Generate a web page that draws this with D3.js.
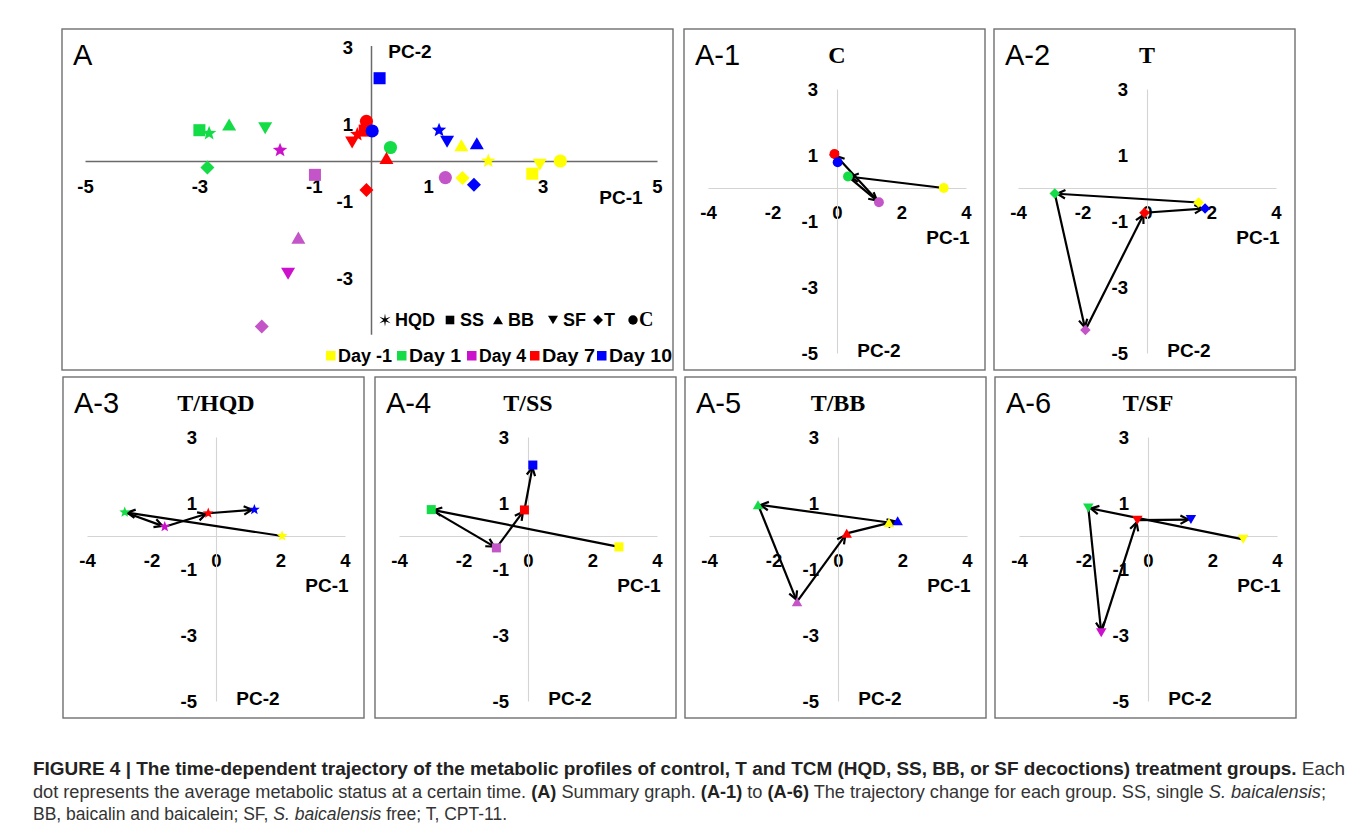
<!DOCTYPE html>
<html><head><meta charset="utf-8">
<script src="https://cdn.jsdelivr.net/npm/d3@7"></script>
<style>body{margin:0;background:#fff}</style>
</head><body><svg id="c" width="1358" height="835"></svg>
<script>
// ---------------- DATA ----------------
const days = ["Day -1","Day 1","Day 4","Day 7","Day 10"];
const groups = ["HQD","SS","BB","SF","T","C"];
const pc1_HQD=[2.05,-2.83,-1.59,-0.24,1.19], pc2_HQD=[0.00,0.72,0.28,0.69,0.80];
const pc1_SS =[2.82,-3.00,-0.98,-0.11,0.15], pc2_SS =[-0.33,0.80,-0.36,0.79,2.15];
const pc1_BB =[1.58,-2.48,-1.27,0.27,1.85],  pc2_BB =[0.41,0.95,-1.99,0.08,0.46];
const pc1_SF =[2.95,-1.85,-1.45,-0.33,1.33], pc2_SF =[-0.10,0.85,-2.93,0.48,0.50];
const pc1_T  =[1.60,-2.86,-1.91,-0.08,1.80], pc2_T  =[-0.44,-0.17,-4.30,-0.75,-0.62];
const pc1_C  =[3.31,0.34,1.30,-0.08,0.02],   pc2_C  =[0.00,0.35,-0.43,1.03,0.78];
const xTicksA=[-5,-3,-1,1,3,5], yTicksA=[3,1,-1,-3];
const xTicksSub=[-4,-2,0,2,4], yTicksSub=[3,1,-1,-3,-5];
const subLabels=["A-1","A-2","A-3","A-4","A-5","A-6"];
const subTitles=["C","T","T/HQD","T/SS","T/BB","T/SF"];
const subGroups=["C","T","HQD","SS","BB","SF"];

// ---------------- STYLE ----------------
const PC1={HQD:pc1_HQD,SS:pc1_SS,BB:pc1_BB,SF:pc1_SF,T:pc1_T,C:pc1_C};
const PC2={HQD:pc2_HQD,SS:pc2_SS,BB:pc2_BB,SF:pc2_SF,T:pc2_T,C:pc2_C};
const shapeOf={HQD:"star",SS:"square",BB:"triUp",SF:"triDown",T:"diamond",C:"circle"};
const dayColor=["#FFFF00","#14DC46","#C455C8","#FF0000","#0000FF"];
const day4Strong={HQD:true,SF:true};
function colorFor(g,i){ if(i===2 && day4Strong[g]) return "#CC11CC"; return dayColor[i]; }
const SANS="Liberation Sans, Arial, sans-serif", SERIF="Liberation Serif, Times New Roman, serif";

function shapePath(shape,s){
  const h=s/2;
  if(shape==="square"){const a=s*0.43;return `M${-a},${-a}H${a}V${a}H${-a}Z`;}
  if(shape==="circle"){const r=s*0.47;return `M${r},0A${r},${r},0,1,1,${-r},0A${r},${r},0,1,1,${r},0Z`;}
  if(shape==="diamond"){return `M0,${-h}L${h},0L0,${h}L${-h},0Z`;}
  if(shape==="triUp"){const t=s*0.43;return `M0,${-t}L${h},${t}L${-h},${t}Z`;}
  if(shape==="triDown"){const t=s*0.43;return `M0,${t}L${h},${-t}L${-h},${-t}Z`;}
  if(shape==="star"||shape==="star6"){
    const n=shape==="star"?5:6, ro=s*0.54, ri=shape==="star"?s*0.23:s*0.14; let p="";
    for(let k=0;k<2*n;k++){const r=k%2?ri:ro;const a=-Math.PI/2+k*Math.PI/n;
      p+=(k?"L":"M")+(r*Math.cos(a)).toFixed(2)+","+(r*Math.sin(a)).toFixed(2);}
    return p+"Z";
  }
}

const svg=d3.select("#c");
const FRAME="#6f6f6f";
const tickFmt=d=>String(d);

function styleAxis(g,color,w,fs){
  g.attr("font-family",null).attr("font-size",null);
  g.select(".domain").attr("stroke",color).attr("stroke-width",w);
  g.selectAll(".tick line").remove();
  g.selectAll("text").attr("fill","#000").style("font-family",SANS)
    .style("font-weight","bold").style("font-size",fs+"px");
}

function drawArrow(g,x1,y1,x2,y2){
  const dx=x2-x1, dy=y2-y1, L=Math.hypot(dx,dy), ux=dx/L, uy=dy/L;
  const tx=x2-ux*2.5, ty=y2-uy*2.5, len=9, ang=28*Math.PI/180;
  const rot=(a)=>[-(ux*Math.cos(a)-uy*Math.sin(a))*len, -(ux*Math.sin(a)+uy*Math.cos(a))*len];
  const r1=rot(ang), r2=rot(-ang);
  g.append("path").attr("d",`M${x1},${y1}L${tx},${ty}`).attr("stroke","#000").attr("stroke-width",2.2).attr("fill","none");
  g.append("path").attr("d",`M${tx+r1[0]},${ty+r1[1]}L${tx},${ty}L${tx+r2[0]},${ty+r2[1]}`)
    .attr("stroke","#000").attr("stroke-width",2.2).attr("fill","none");
}
function label(g,x,y,txt,fs,anchor,weight,family){
  return g.append("text").attr("x",x).attr("y",y).attr("text-anchor",anchor||"start").text(txt)
    .style("font-family",family||SANS).style("font-weight",weight||"bold").style("font-size",fs+"px");
}

// ---------------- PANEL A ----------------
{
  const L=62,T=29,R=673,B=370;
  const g=svg.append("g");
  g.append("rect").attr("x",L).attr("y",T).attr("width",R-L).attr("height",B-T).attr("fill","#fff").attr("stroke",FRAME).attr("stroke-width",1.4);
  const x=d3.scaleLinear().domain([-5,5]).range([85,657]);
  const y=d3.scaleLinear().domain([3,-4.5]).range([45.5,334.25]);
  const gx=g.append("g").attr("transform",`translate(0,${y(0)})`)
    .call(d3.axisBottom(x).tickValues(xTicksA).tickSize(0).tickPadding(19).tickFormat(tickFmt));
  styleAxis(gx,"#6a6a6a",1.5,18.5);
  const gy=g.append("g").attr("transform",`translate(${x(0)},0)`)
    .call(d3.axisLeft(y).tickValues(yTicksA).tickSize(0).tickPadding(18).tickFormat(tickFmt));
  styleAxis(gy,"#6a6a6a",1.5,18.5);
  gy.selectAll("text").attr("dy","0.42em");
  label(g,L+11,T+36,"A",29,"start","normal");
  label(g,410,58,"PC-2",19,"middle");
  label(g,621,204,"PC-1",19,"middle");
  const pts=[];
  days.forEach((d,i)=>groups.forEach(gr=>pts.push({g:gr,i})));
  g.selectAll("path.pt").data(pts).join("path").attr("class","pt")
    .attr("transform",d=>`translate(${x(PC1[d.g][d.i])},${y(PC2[d.g][d.i])})`)
    .attr("d",d=>shapePath(shapeOf[d.g],14)).attr("fill",d=>colorFor(d.g,d.i));
  // legend row 1
  const lgX=[385,450,498,553,598,633];
  groups.forEach((gr,k)=>{
    g.append("path").attr("transform",`translate(${lgX[k]},${320})`).attr("d",shapePath(gr==="HQD"?"star6":shapeOf[gr],gr==="HQD"?12:10)).attr("fill","#000");
    label(g,lgX[k]+(gr==="T"||gr==="C"?6:10),326,gr,gr==="C"?20:18,"start","bold",gr==="C"?SERIF:SANS);
  });
  // legend row 2
  const lgX2=[326,397,467,530,597];
  days.forEach((d,k)=>{
    g.append("rect").attr("x",lgX2[k]).attr("y",351).attr("width",9.5).attr("height",9.5).attr("fill",k===2?"#CC11CC":dayColor[k]);
    const t=label(g,lgX2[k]+12,362,d,18,"start");
    const w=[54,52,47,53,63][k]; t.attr("textLength",w).attr("lengthAdjust","spacingAndGlyphs");
  });
}

// ---------------- SUB PANELS ----------------
const subPos=[[684,29],[994,29],[63,377],[375,377],[685,377],[995,377]];
subPos.forEach(([L,T],k)=>{
  const W=301,H=341, gr=subGroups[k];
  const g=svg.append("g");
  g.append("rect").attr("x",L).attr("y",T).attr("width",W).attr("height",H).attr("fill","#fff").attr("stroke",FRAME).attr("stroke-width",1.4);
  const x=d3.scaleLinear().domain([-4,4]).range([L+24,L+282]);
  const y=d3.scaleLinear().domain([3,-5]).range([T+60,T+324]);
  const gx=g.append("g").attr("transform",`translate(0,${y(0)})`)
    .call(d3.axisBottom(x).tickValues(xTicksSub).tickSize(0).tickPadding(18).tickFormat(tickFmt));
  styleAxis(gx,"#d4d4d4",1.1,18.5);
  const gy=g.append("g").attr("transform",`translate(${x(0)},0)`)
    .call(d3.axisLeft(y).tickValues(yTicksSub).tickSize(0).tickPadding(19).tickFormat(tickFmt));
  styleAxis(gy,"#d4d4d4",1.1,18.5);
  gy.selectAll("text").attr("dy","0.36em");
  label(g,L+11,T+36,subLabels[k],29,"start","normal");
  label(g,x(0),T+34,subTitles[k],24,"middle","bold",SERIF);
  label(g,L+264,T+215,"PC-1",19,"middle");
  label(g,L+195,T+328,"PC-2",19,"middle");
  const xs=PC1[gr], ys=PC2[gr];
  const ag=g.append("g");
  for(let i=0;i<days.length-1;i++) drawArrow(ag,x(xs[i]),y(ys[i]),x(xs[i+1]),y(ys[i+1]));
  g.selectAll("path.pt").data(days.map((d,i)=>i)).join("path").attr("class","pt")
    .attr("transform",i=>`translate(${x(xs[i])},${y(ys[i])})`)
    .attr("d",shapePath(shapeOf[gr],10.5)).attr("fill",i=>colorFor(gr,i));
});

// ---------------- CAPTION ----------------
const capFont="Liberation Sans, Arial, Helvetica, sans-serif";
const FS="17.5px";
const c1=svg.append("text").attr("x",33).attr("y",775).style("font-family",capFont).style("font-size",FS).attr("fill","#333")
  .attr("textLength",1312).attr("lengthAdjust","spacingAndGlyphs");
c1.append("tspan").attr("font-weight","bold").attr("fill","#222").text("FIGURE 4 | The time-dependent trajectory of the metabolic profiles of control, T and TCM (HQD, SS, BB, or SF decoctions) treatment groups.");
c1.append("tspan").text(" Each");
const c2=svg.append("text").attr("x",33).attr("y",798).style("font-family",capFont).style("font-size",FS).attr("fill","#333")
  .attr("textLength",1293).attr("lengthAdjust","spacingAndGlyphs");
c2.append("tspan").text("dot represents the average metabolic status at a certain time. ");
c2.append("tspan").attr("font-weight","bold").attr("fill","#222").text("(A)");
c2.append("tspan").text(" Summary graph. ");
c2.append("tspan").attr("font-weight","bold").attr("fill","#222").text("(A-1)");
c2.append("tspan").text(" to ");
c2.append("tspan").attr("font-weight","bold").attr("fill","#222").text("(A-6)");
c2.append("tspan").text(" The trajectory change for each group. SS, single ");
c2.append("tspan").attr("font-style","italic").text("S. baicalensis");
c2.append("tspan").text(";");
const c3=svg.append("text").attr("x",33).attr("y",820).style("font-family",capFont).style("font-size",FS).attr("fill","#333");
c3.append("tspan").text("BB, baicalin and baicalein; SF, ");
c3.append("tspan").attr("font-style","italic").text("S. baicalensis");
c3.append("tspan").text(" free; T, CPT-11.");
</script></body></html>
